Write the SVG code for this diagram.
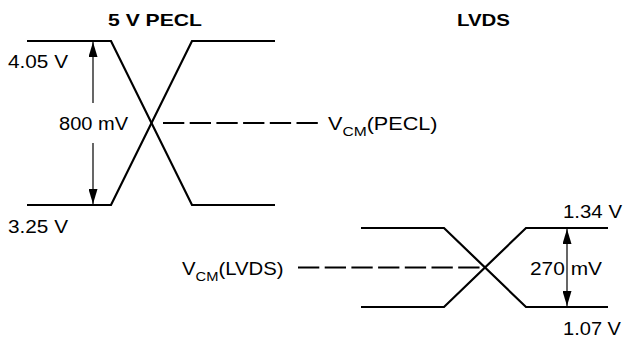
<svg xmlns="http://www.w3.org/2000/svg" width="626" height="341" viewBox="0 0 626 341">
<style>
text{font-family:"Liberation Sans",Arial,sans-serif;font-size:18px;fill:#000}
.b{font-weight:bold;font-size:17px}
.sub{font-size:13px}
.sig{fill:none;stroke:#000;stroke-width:2.2;stroke-linejoin:miter}
.dash{fill:none;stroke:#000;stroke-width:2;stroke-dasharray:21.3 5.4}
.dim{fill:none;stroke:#000;stroke-width:1.2}
</style>
<defs>
<marker id="ah" markerUnits="userSpaceOnUse" markerWidth="15" markerHeight="9" refX="15" refY="4.5" orient="auto-start-reverse">
<path d="M0,0 L15,4.5 L0,9 z" fill="#000"/>
</marker>
</defs>
<rect width="626" height="341" fill="#fff"/>
<g id="titles">
<text class="b" x="108" y="26" textLength="94" lengthAdjust="spacingAndGlyphs">5 V PECL</text>
<text class="b" x="457" y="26" textLength="53" lengthAdjust="spacingAndGlyphs">LVDS</text>
</g>
<g id="pecl-signal">
<path class="sig" d="M27,41 H111 L192,205 H275"/>
<path class="sig" d="M27,205 H111 L192,41 H275"/>
</g>
<g id="lvds-signal">
<path class="sig" d="M361,228 H444 L526,307 H608"/>
<path class="sig" d="M361,307 H444 L526,228 H608"/>
</g>
<g id="connectors">
<line class="dash" x1="163" y1="123" x2="319" y2="123"/>
<line class="dash" x1="298" y1="267.5" x2="480" y2="267.5"/>
<line class="dim" x1="93" y1="103" x2="93" y2="42" marker-end="url(#ah)"/>
<line class="dim" x1="93" y1="143" x2="93" y2="204" marker-end="url(#ah)"/>
<line class="dim" x1="567" y1="229" x2="567" y2="306" marker-start="url(#ah)" marker-end="url(#ah)"/>
</g>
<g id="pecl-labels">
<text x="8" y="68" textLength="60" lengthAdjust="spacingAndGlyphs">4.05 V</text>
<text x="8" y="233" textLength="60" lengthAdjust="spacingAndGlyphs">3.25 V</text>
<text x="59" y="130" textLength="69" lengthAdjust="spacingAndGlyphs">800 mV</text>
<g id="vcm-pecl" transform="translate(328,130) scale(1.2,1)">
<text x="0" y="0">V<tspan class="sub" dy="6">CM</tspan><tspan dy="-6">(PECL)</tspan></text>
</g>
</g>
<g id="lvds-labels">
<text x="563" y="218" textLength="59" lengthAdjust="spacingAndGlyphs">1.34 V</text>
<text x="563" y="335" textLength="58" lengthAdjust="spacingAndGlyphs">1.07 V</text>
<text x="530" y="275" textLength="72" lengthAdjust="spacingAndGlyphs">270 mV</text>
<g id="vcm-lvds" transform="translate(182,275) scale(1.13,1)">
<text x="0" y="0">V<tspan class="sub" dy="6">CM</tspan><tspan dy="-6">(LVDS)</tspan></text>
</g>
</g>
</svg>
